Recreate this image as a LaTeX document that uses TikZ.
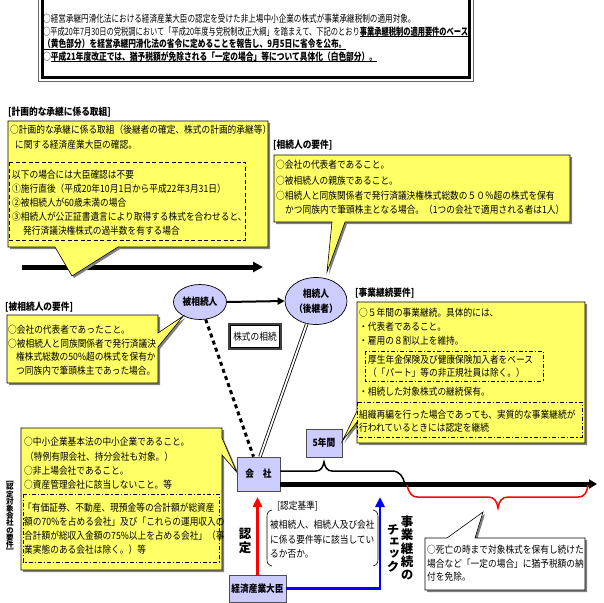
\documentclass[tikz,border=0pt]{standalone}
\usepackage{graphicx}
\usepackage{fontspec}
\setmainfont{Noto Sans CJK JP}[FakeStretch=0.87]
\newfontfamily\jpn{Noto Sans CJK JP}[FakeStretch=0.74]
\newfontfamily\jpvert{Noto Sans CJK JP}[RawFeature=+vert]
\usetikzlibrary{arrows.meta,shapes.geometric,shadows}
\definecolor{yel}{HTML}{FFFF66}
\definecolor{lav}{HTML}{CCCCFF}
\newcommand\myul[1]{\setbox0=\hbox{#1}\leavevmode\rlap{\raisebox{-2.4pt}{\rule{\wd0}{1.3pt}}}\box0}
\newcommand\tightlines{\lineskiplimit=-100pt\relax\lineskip=0pt\relax}
\begin{document}
\begin{tikzpicture}[x=1pt,y=-1pt,
  t/.style={anchor=west, inner sep=0pt, font=\fontsize{10}{12}\selectfont, text height=8.6pt, text depth=1.4pt},
  tb/.style={t, font=\fontsize{10}{12}\selectfont\bfseries},
  tn/.style={t, font=\jpn\fontsize{10}{12}\selectfont},
  callout/.style={fill=yel, draw=black, line width=0.6pt, drop shadow={shadow xshift=2pt, shadow yshift=-2pt, fill=black!50, opacity=1}},
  wcallout/.style={callout, fill=white},
  lavbox/.style={fill=lav, draw=black!70, line width=0.7pt, inner sep=0pt, font=\fontsize{10}{12}\selectfont\bfseries},
  ell/.style={ellipse, fill=lav, draw=black, line width=0.7pt, inner sep=0pt, align=center, font=\fontsize{10}{14.5}\selectfont\bfseries},
  dbox/.style={draw=black, line width=0.7pt, dash pattern=on 4pt off 2.5pt},
  ddbox/.style={draw=black, line width=0.7pt, dash pattern=on 4pt off 2pt on 1.2pt off 2pt},
  vt/.style={inner sep=0pt, align=center},
]
\useasboundingbox (0,0) rectangle (604,602);
\fill[white] (0,0) rectangle (604,602);

% ---------- banner ----------
\draw[black!60, line width=0.8pt] (38.5,-5) rectangle (473.5,81.5);
\draw[black, line width=3pt] (42.5,-2) rectangle (469.5,77.5);
\node[tn] (b1) at (43,18.5) {\scalebox{1.027}[1]{○経営承継円滑化法における経済産業大臣の認定を受けた非上場中小企業の株式が事業承継税制の適用対象。}};
\node[tn] (b2) at (43,31.5) {\scalebox{0.978}[1]{○平成20年7月30日の党税調において「平成20年度与党税制改正大綱」を踏まえて、下記のとおり\myul{\bfseries 事業承継税制の適用要件のベース}}};
\node[tn] (b3) at (43,44) {\scalebox{1.045}[1]{\myul{\bfseries （黄色部分）を経営承継円滑化法の省令に定めることを報告し、9月5日に省令を公布。}}};
\node[tn] (b4) at (43,56.5) {\scalebox{1.045}[1]{○\myul{\bfseries 平成21年度改正では、猶予税額が免除される「一定の場合」等について具体化（白色部分）。}}};

% ---------- upper-left timeline ----------
\coordinate (tl1) at (22,267);
\coordinate (tl2) at (263,267);
\draw[line width=5pt, -{Triangle[length=10pt,width=10pt]}] (tl1) -- (tl2);

% ---------- nodes ----------
\node[ell, minimum width=53pt, minimum height=35pt] (hi) at (200,302) {被相続人};
\node[ell, minimum width=62pt, minimum height=47pt] (so) at (316,301) {相続人\\（後継者）};
\node[lavbox, minimum width=43pt, minimum height=34pt] (kaisha) at (258.5,474) {会　社};
\node[lavbox, minimum width=36pt, minimum height=28pt] (go) at (324,443) {5年間};
\node[lavbox, minimum width=57pt, minimum height=27pt] (meti) at (257.5,588.5) {経済産業大臣};
\node[draw=black!75, line width=1.8pt, minimum width=52pt, minimum height=25pt, inner sep=0pt, font=\fontsize{10}{12}\selectfont] (kabu) at (255,336.5) {株式の相続};
\draw[black, line width=0.6pt] ([shift={(2.6pt,2.6pt)}]kabu.south west) rectangle ([shift={(-2.6pt,-2.6pt)}]kabu.north east);

% ---------- connectors ----------
\draw[line width=2pt, -{Triangle[length=7pt,width=7pt]}] (hi.east) -- (so.west);
\draw[line width=3pt, dash pattern=on 4pt off 3.5pt] (hi.-72) -- ([xshift=-5pt]kaisha.north);
\draw[double, double distance=1.8pt, line width=0.8pt] (so.-112) -- ([xshift=1.5pt]kaisha.north);

\coordinate (tl3) at (597,484);
\draw[line width=5pt, -{Triangle[length=8pt,width=9pt]}] ([yshift=-10pt]kaisha.east) -- (tl3);

\coordinate (br1) at (405,484);
\draw[line width=1.5pt] ([yshift=3pt]kaisha.east) -- (316,471) .. controls (321,471) and (323,467) .. (324,462) .. controls (325,467) and (327,471) .. (332,471) -- (392,471) .. controls (400,471) and (403,477) .. (br1);

\coordinate (rb1) at (407,485);
\coordinate (rb2) at (588,485);
\draw[red, line width=1.5pt] (rb1) .. controls (409,493) and (411,497) .. (418,497) -- (488,497) .. controls (494,497) and (497,501) .. (498,508) .. controls (499,501) and (502,497) .. (508,497) -- (578,497) .. controls (585,497) and (587,492) .. (rb2);

\coordinate (bluetip) at (380,497);
\coordinate (redtip) at (257.5,497);
\draw[blue, line width=2.5pt, -{Triangle[length=10pt,width=9pt]}] (meti.east) -| (bluetip);
\draw[red, line width=2.5pt, -{Triangle[length=10pt,width=9pt]}] (meti.north) -- (redtip);

% ---------- callouts ----------
\path[callout] (8,121) -- (268,121) -- (268,247) -- (118,247) -- (72,276) -- (55,247) -- (8,247) -- cycle;
\path[callout] (274,155) -- (570,155) -- (570,222) -- (345,222) -- (327,272) -- (332,222) -- (274,222) -- cycle;
\path[callout] (7,315) -- (158,315) -- (158,333) -- (hi.-140) -- (158,347) -- (158,383) -- (7,383) -- cycle;
\path[callout] (357,302) -- (585,302) -- (585,443) -- (357,443) -- (357,422) -- ([yshift=2pt]go.east) -- (357,411) -- cycle;
\path[callout] (21,428) -- (222,428) -- (222,438) -- ([yshift=2pt]kaisha.west) -- (222,455) -- (222,570) -- (21,570) -- cycle;
\coordinate (wtip) at (483,512);
\path[wcallout] (425,538) -- (447,538) -- (wtip) -- (475,538) -- (585,538) -- (585,590) -- (425,590) -- cycle;

% ---------- headers ----------
\node[tb] (h1) at (8,112) {[計画的な承継に係る取組]};
\node[tb] (h2) at (273,145) {[相続人の要件]};
\node[tb] (h3) at (5,307) {[被相続人の要件]};
\node[tb] (h4) at (355,293) {[事業継続要件]};

% ---------- planned succession ----------
\node[t] (k1) at (10,130) {○計画的な承継に係る取組（後継者の確定、株式の計画的承継等）};
\node[t] (k2) at (15,145) {に関する経済産業大臣の確認。};
\draw[dbox] (9,162) rectangle (245,240);
\node[t] (k3) at (12,175) {以下の場合には大臣確認は不要};
\node[t] (k4) at (12,189) {①施行直後（平成20年10月1日から平成22年3月31日）};
\node[t] (k5) at (12,202.5) {②被相続人が60歳未満の場合};
\node[t] (k6) at (12,216.5) {③相続人が公正証書遺言により取得する株式を合わせると、};
\node[t] (k7) at (23,231) {発行済議決権株式の過半数を有する場合};

% ---------- successor ----------
\node[t] (s1) at (276,165) {○会社の代表者であること。};
\node[t] (s2) at (276,180.5) {○被相続人の親族であること。};
\node[t] (s3) at (276,195.5) {○相続人と同族関係者で発行済議決権株式総数の５０％超の株式を保有};
\node[t] (s4) at (285,210) {かつ同族内で筆頭株主となる場合。（1つの会社で適用される者は1人）};

% ---------- decedent ----------
\node[t] (p1) at (8,330) {○会社の代表者であったこと。};
\node[t] (p2) at (8,343.5) {○被相続人と同族関係者で発行済議決};
\node[t] (p3) at (16,357) {権株式総数の50\%超の株式を保有か};
\node[t] (p4) at (16,370.5) {つ同族内で筆頭株主であった場合。};

% ---------- continuation ----------
\node[t] (j1) at (359,313) {○５年間の事業継続。具体的には、};
\node[t] (j2) at (359,327) {・代表者であること。};
\node[t] (j3) at (359,341) {・雇用の８割以上を維持。};
\draw[ddbox] (365,351) rectangle (543,381);
\node[t] (j4) at (368,360) {厚生年金保険及び健康保険加入者をベース};
\node[t] (j5) at (368,373) {（「パート」等の非正規社員は除く。）};
\node[t] (j6) at (359,392) {・相続した対象株式の継続保有。};
\draw[ddbox] (357,402) rectangle (582,437);
\node[t] (j7) at (359,415) {組織再編を行った場合であっても、実質的な事業継続が};
\node[t] (j8) at (359,428) {行われているときには認定を継続};

% ---------- company requirements ----------
\node[t] (c1) at (24,442) {○中小企業基本法の中小企業であること。};
\node[t] (c2) at (25,457) {（特例有限会社、持分会社も対象。）};
\node[t] (c3) at (24,471) {○非上場会社であること。};
\node[t] (c4) at (24,484.5) {○資産管理会社に該当しないこと。等};
\draw[ddbox] (23,494) rectangle (219,562);
\node[t] (c5) at (23,508) {「有価証券、不動産、現預金等の合計額が総資産};
\node[t] (c6) at (24,522) {額の70\%を占める会社」及び「これらの運用収入の};
\node[t] (c7) at (24,536) {合計額が総収入金額の75\%以上を占める会社」（事};
\node[t] (c8) at (24,549.5) {業実態のある会社は除く。）等};
\node[vt, font=\jpvert\bfseries\fontsize{7.6}{7.2}\selectfont\tightlines] (cv) at (10,518) {［\\認\\定\\対\\象\\会\\社\\の\\要\\件\\］};

% ---------- exemption ----------
\node[t] (w1) at (427,550) {○死亡の時まで対象株式を保有し続けた};
\node[t] (w2) at (427,563.5) {場合など「一定の場合」に猶予税額の納};
\node[t] (w3) at (427,577) {付を免除。};

% ---------- criteria ----------
\node[t] (n0) at (277,506) {[認定基準]};
\node[t] (n1) at (270,525) {被相続人、相続人及び会社};
\node[t] (n2) at (270,540) {に係る要件等に該当してい};
\node[t] (n3) at (270,554) {るか否か。};
\draw[line width=0.6pt] (272,510) .. controls (268,511) and (267,513) .. (267,517) -- (267,559) .. controls (267,563) and (268,565) .. (272,566);
\draw[line width=0.6pt] (373,510) .. controls (377,511) and (378,513) .. (378,517) -- (378,559) .. controls (378,563) and (377,565) .. (373,566);

% ---------- vertical labels ----------
\node[vt, font=\jpvert\bfseries\fontsize{12.5}{13.5}\selectfont] (nintei) at (245,541) {認\\定};
\node[vt, font=\jpvert\bfseries\fontsize{12.5}{13.3}\selectfont] (jg) at (407,548) {事\\業\\継\\続\\の};
\node[vt, font=\jpvert\bfseries\fontsize{12.5}{12.3}\selectfont\tightlines] (chk) at (393,548) {チ\\ェ\\ッ\\ク};
\end{tikzpicture}
\end{document}
